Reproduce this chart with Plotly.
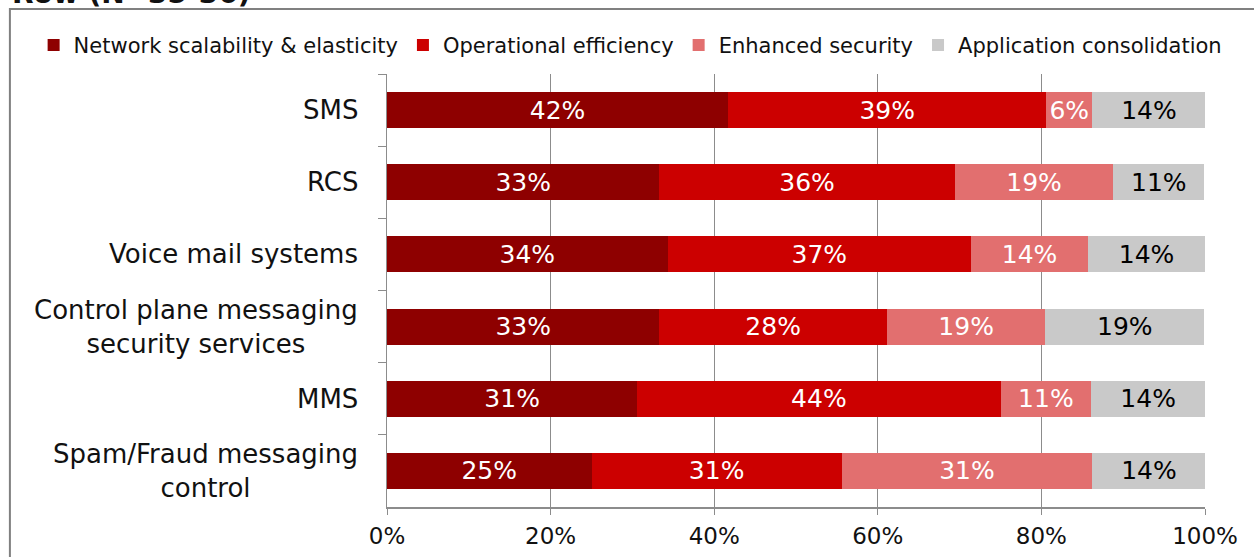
import plotly.graph_objects as go

# Survey responses by application area (share of respondents, %)
categories = [
    "SMS",
    "RCS",
    "Voice mail systems",
    "Control plane messaging<br>security services",
    "MMS",
    "Spam/Fraud messaging<br>control",
]
series_names = [
    "Network scalability & elasticity",
    "Operational efficiency",
    "Enhanced security",
    "Application consolidation",
]
network_scalability = [41.7, 33.3, 34.3, 33.3, 30.6, 25.0]
operational_efficiency = [38.9, 36.1, 37.1, 27.8, 44.4, 30.6]
enhanced_security = [5.6, 19.4, 14.3, 19.4, 11.1, 30.6]
application_consolidation = [13.9, 11.1, 14.3, 19.4, 13.9, 13.9]
x_ticks = [0, 20, 40, 60, 80, 100]
x_tick_labels = ["0%", "20%", "40%", "60%", "80%", "100%"]
subtitle = "Row (N=35-36)"

series_values = [network_scalability, operational_efficiency,
                 enhanced_security, application_consolidation]
colors = ["#8e0000", "#cc0000", "#e26f6f", "#c9c9c9"]
text_colors = ["white", "white", "white", "black"]

FONT = "DejaVu Sans"
GRID = "#8c8c8c"

fig = go.Figure()
for name, vals, col, tcol in zip(series_names, series_values, colors, text_colors):
    fig.add_trace(go.Bar(
        y=categories,
        x=vals,
        name=name,
        orientation="h",
        marker=dict(color=col, line=dict(width=0)),
        texttemplate="%{x:.0f}%",
        textposition="inside",
        insidetextanchor="middle",
        textangle=0,
        constraintext="none",
        textfont=dict(family=FONT, size=25, color=tcol),
        hoverinfo="skip",
    ))

# Category labels, centred line by line and right-aligned to the axis
annotations = []
for cat in categories:
    annotations.append(dict(
        x=-0.033, xref="paper", y=cat, yref="y",
        text=cat, showarrow=False, xanchor="right", yanchor="middle",
        align="center", font=dict(family=FONT, size=26, color="#111111"),
    ))
annotations.append(dict(
    x=-0.461, xref="paper", y=1.187, yref="paper",
    text="<b>" + subtitle + "</b>", showarrow=False,
    xanchor="left", yanchor="middle",
    font=dict(family=FONT, size=28, color="#111111"),
))

fig.update_layout(
    width=1254, height=557,
    margin=dict(l=387, r=49, t=74, b=50, autoexpand=False),
    barmode="stack",
    bargap=0.5,
    plot_bgcolor="white",
    paper_bgcolor="white",
    font=dict(family=FONT, color="#111111"),
    uniformtext=dict(mode="show", minsize=10),
    legend=dict(
        orientation="h",
        x=-0.432, xanchor="left",
        y=1.066, yanchor="middle",
        font=dict(family=FONT, size=21, color="#111111"),
        bgcolor="rgba(0,0,0,0)",
        traceorder="normal",
        itemclick=False, itemdoubleclick=False,
    ),
    xaxis=dict(
        range=[0, 100],
        tickmode="array",
        tickvals=x_ticks,
        ticktext=x_tick_labels,
        showgrid=True, gridcolor=GRID, gridwidth=1,
        zeroline=False,
        showline=True, linecolor=GRID, linewidth=2,
        ticks="outside", ticklen=6, tickcolor=GRID,
        ticklabelstandoff=1,
        automargin=False,
        tickfont=dict(family=FONT, size=23, color="#111111"),
        fixedrange=True,
    ),
    yaxis=dict(
        categoryorder="array", categoryarray=categories,
        autorange="reversed",
        showticklabels=False,
        showgrid=False, zeroline=False,
        showline=True, linecolor=GRID, linewidth=1,
        ticks="outside", tickson="boundaries", ticklen=8, tickcolor=GRID,
        automargin=False,
        fixedrange=True,
    ),
    annotations=annotations,
    shapes=[dict(
        type="rect", xref="paper", yref="paper",
        x0=-0.461, x1=1.1, y0=-0.3, y1=1.150,
        line=dict(color="#808080", width=2), fillcolor="rgba(0,0,0,0)",
        layer="below",
    )],
)

fig.write_html("out.html", config={"displayModeBar": False})
